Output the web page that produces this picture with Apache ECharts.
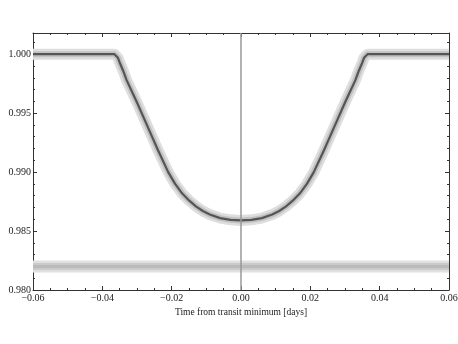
<!DOCTYPE html>
<html>
<head>
<meta charset="utf-8">
<script src="https://cdn.jsdelivr.net/npm/echarts@6/dist/echarts.min.js"></script>
<style>html,body{margin:0;padding:0;background:#fff}#c{width:458px;height:344px}</style>
</head>
<body>
<div id="c"></div>
<script>
// Time from transit minimum [days]
const times = [-0.060, -0.050, -0.040, -0.0365, -0.0355, -0.035, -0.034, -0.033, -0.030, -0.027, -0.024, -0.021, -0.019, -0.017, -0.015, -0.013, -0.011, -0.009, -0.006, -0.003, 0.000,
               0.003, 0.006, 0.009, 0.011, 0.013, 0.015, 0.017, 0.019, 0.021, 0.024, 0.027, 0.030, 0.033, 0.034, 0.035, 0.0355, 0.0365, 0.040, 0.050, 0.060];
// Model (and data band centre) normalized flux
const modelFlux = [1.0000, 1.0000, 1.0000, 1.0000, 0.9997, 0.9993, 0.9986, 0.9978, 0.9959, 0.9939, 0.9919, 0.9900, 0.9890, 0.9882, 0.9876, 0.9871, 0.9867, 0.9864, 0.9861, 0.98595, 0.9859,
                   0.98595, 0.9861, 0.9864, 0.9867, 0.9871, 0.9876, 0.9882, 0.9890, 0.9900, 0.9919, 0.9939, 0.9959, 0.9978, 0.9986, 0.9993, 0.9997, 1.0000, 1.0000, 1.0000, 1.0000];
// Residuals (offset) band
const residTimes = [-0.060, 0.060];
const residFlux = [0.982, 0.982];
// Axis ticks
const xTicks = [-0.06, -0.04, -0.02, 0.00, 0.02, 0.04, 0.06];
const yTicks = [0.980, 0.985, 0.990, 0.995, 1.000];

const model = times.map((t, i) => [t, modelFlux[i]]);
const resid = residTimes.map((t, i) => [t, residFlux[i]]);

const font = '"Liberation Serif", "DejaVu Serif", serif';
const axisCol = '#333';
const fmtX = v => {
  if (!xTicks.some(t => Math.abs(t - v) < 1e-9)) return '';
  const r = Math.round(v * 100) / 100;
  return (r < 0 ? '\u2212' : '') + Math.abs(r).toFixed(2);
};
const fmtY = v => yTicks.some(t => Math.abs(t - v) < 1e-9) ? v.toFixed(3) : '';

function xAx(pos, show) {
  return {
    type: 'value', position: pos, min: -0.06, max: 0.06, interval: 0.02,
    axisLine: { show: true, onZero: false, lineStyle: { color: axisCol, width: 1 } },
    axisTick: { show: true, inside: true, length: 4, lineStyle: { color: axisCol } },
    minorTick: { show: true, splitNumber: 4, length: 2, lineStyle: { color: axisCol } },
    splitLine: { show: false },
    axisLabel: { show: show, fontFamily: font, fontSize: 10, color: '#222', margin: 3, formatter: fmtX },
    name: show ? 'Time from transit minimum [days]' : '',
    nameLocation: 'middle', nameGap: 11,
    nameTextStyle: { fontFamily: font, fontSize: 9.5, color: '#222' }
  };
}
function yAx(pos, show) {
  return {
    type: 'value', position: pos, min: 0.980, max: 1.0018, interval: 0.005,
    axisLine: { show: true, onZero: false, lineStyle: { color: axisCol, width: 1 } },
    axisTick: { show: true, inside: true, length: 4, lineStyle: { color: axisCol } },
    minorTick: { show: true, splitNumber: 5, length: 2, lineStyle: { color: axisCol } },
    splitLine: { show: false },
    axisLabel: { show: show, fontFamily: font, fontSize: 10, color: '#222', margin: 2, formatter: fmtY, showMaxLabel: false },
    name: show ? 'Normalized flux' : '',
    nameLocation: 'middle', nameGap: 25,
    nameTextStyle: { fontFamily: font, fontSize: 9.5, color: '#222' }
  };
}

const chart = echarts.init(document.getElementById('c'), null, { renderer: 'canvas' });
chart.setOption({
  animation: false,
  backgroundColor: '#fff',
  grid: { left: 33, right: 9, top: 33, bottom: 54, containLabel: false, outerBoundsMode: 'none' },
  xAxis: [xAx('bottom', true), xAx('top', false)],
  yAxis: [yAx('left', true), yAx('right', false)],
  series: [
    { type: 'line', data: resid, showSymbol: false, silent: true,
      lineStyle: { color: '#e0e0e0', width: 12 }, z: 1 },
    { type: 'line', data: resid, showSymbol: false, silent: true,
      lineStyle: { color: '#cacaca', width: 7 }, z: 2 },
    { type: 'line', data: resid, showSymbol: false, silent: true,
      lineStyle: { color: '#bababa', width: 3 }, z: 3 },
    { type: 'line', data: model, showSymbol: false, silent: true, smooth: false,
      lineStyle: { color: '#dedede', width: 11, join: 'round' }, z: 1 },
    { type: 'line', data: model, showSymbol: false, silent: true, smooth: false,
      lineStyle: { color: '#c2c2c2', width: 6, join: 'round' }, z: 2 },
    { type: 'line', data: model, showSymbol: false, silent: true, smooth: false,
      lineStyle: { color: '#555', width: 2.2, join: 'round' }, z: 3,
      markLine: { silent: true, symbol: 'none', label: { show: false },
        lineStyle: { color: '#999', width: 1.5, type: 'solid' },
        data: [{ xAxis: 0 }] } }
  ]
});
</script>
</body>
</html>
